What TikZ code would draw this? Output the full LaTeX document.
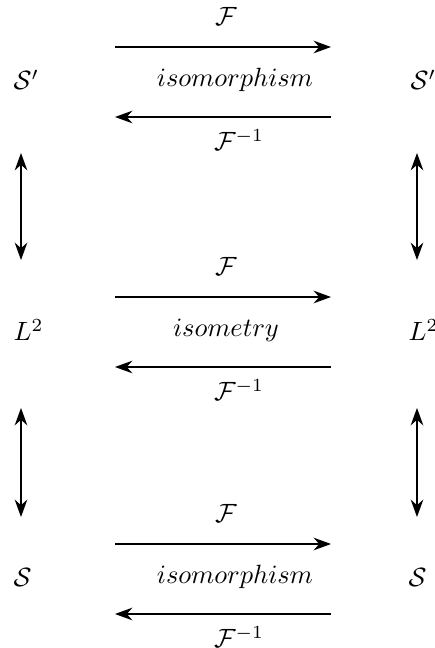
\documentclass[tikz,border=0pt]{standalone}
\usetikzlibrary{arrows.meta}
\tikzset{>={Stealth[length=6.6pt,width=4.8pt]},line width=1.05pt,
  space/.style={anchor=west,inner sep=0pt},
  map/.style={->},
  link/.style={<->},
  maplabel/.style={inner sep=1pt}}

\begin{document}
\begin{tikzpicture}[x=0.01331cm,y=0.01331cm]
\useasboundingbox(0,0)rectangle(435,648);
% spaces
\node[space](SpL)at(13,568){$\mathcal{S}'$};\node[space](SpR)at(410,568){$\mathcal{S}'$};
\node[space](LtL)at(13,318){$L^2$};\node[space](LtR)at(408,318){$L^2$};
\node[space](SL)at(13,71){$\mathcal{S}$};\node[space](SR)at(408,71){$\mathcal{S}$};
% horizontal maps
\foreach \r/\y/\t/\c in {a/568/isomorphism/235,b/318/isometry/226,c/71/isomorphism/235}{
  \coordinate(\r1)at(115,\y+33);\coordinate(\r2)at(331,\y+33);
  \coordinate(\r3)at(331,\y-37);\coordinate(\r4)at(115,\y-37);
  \draw[map](\r1)--(\r2);\draw[map](\r3)--(\r4);
  \node[maplabel](F\r)at(226,\y+64){$\mathcal{F}$};
  \node[maplabel](T\r)at(\c,\y){$\t$};
  \node[maplabel](G\r)at(239,\y-60){$\mathcal{F}^{-1}$};}
% vertical links
\coordinate(u1)at(21,495);\coordinate(u2)at(21,388);
\coordinate(v1)at(417,495);\coordinate(v2)at(417,388);
\coordinate(w1)at(21,240);\coordinate(w2)at(21,131);
\coordinate(z1)at(417,240);\coordinate(z2)at(417,131);
\draw[link](u1)--(u2);\draw[link](v1)--(v2);
\draw[link](w1)--(w2);\draw[link](z1)--(z2);
\end{tikzpicture}
\end{document}
